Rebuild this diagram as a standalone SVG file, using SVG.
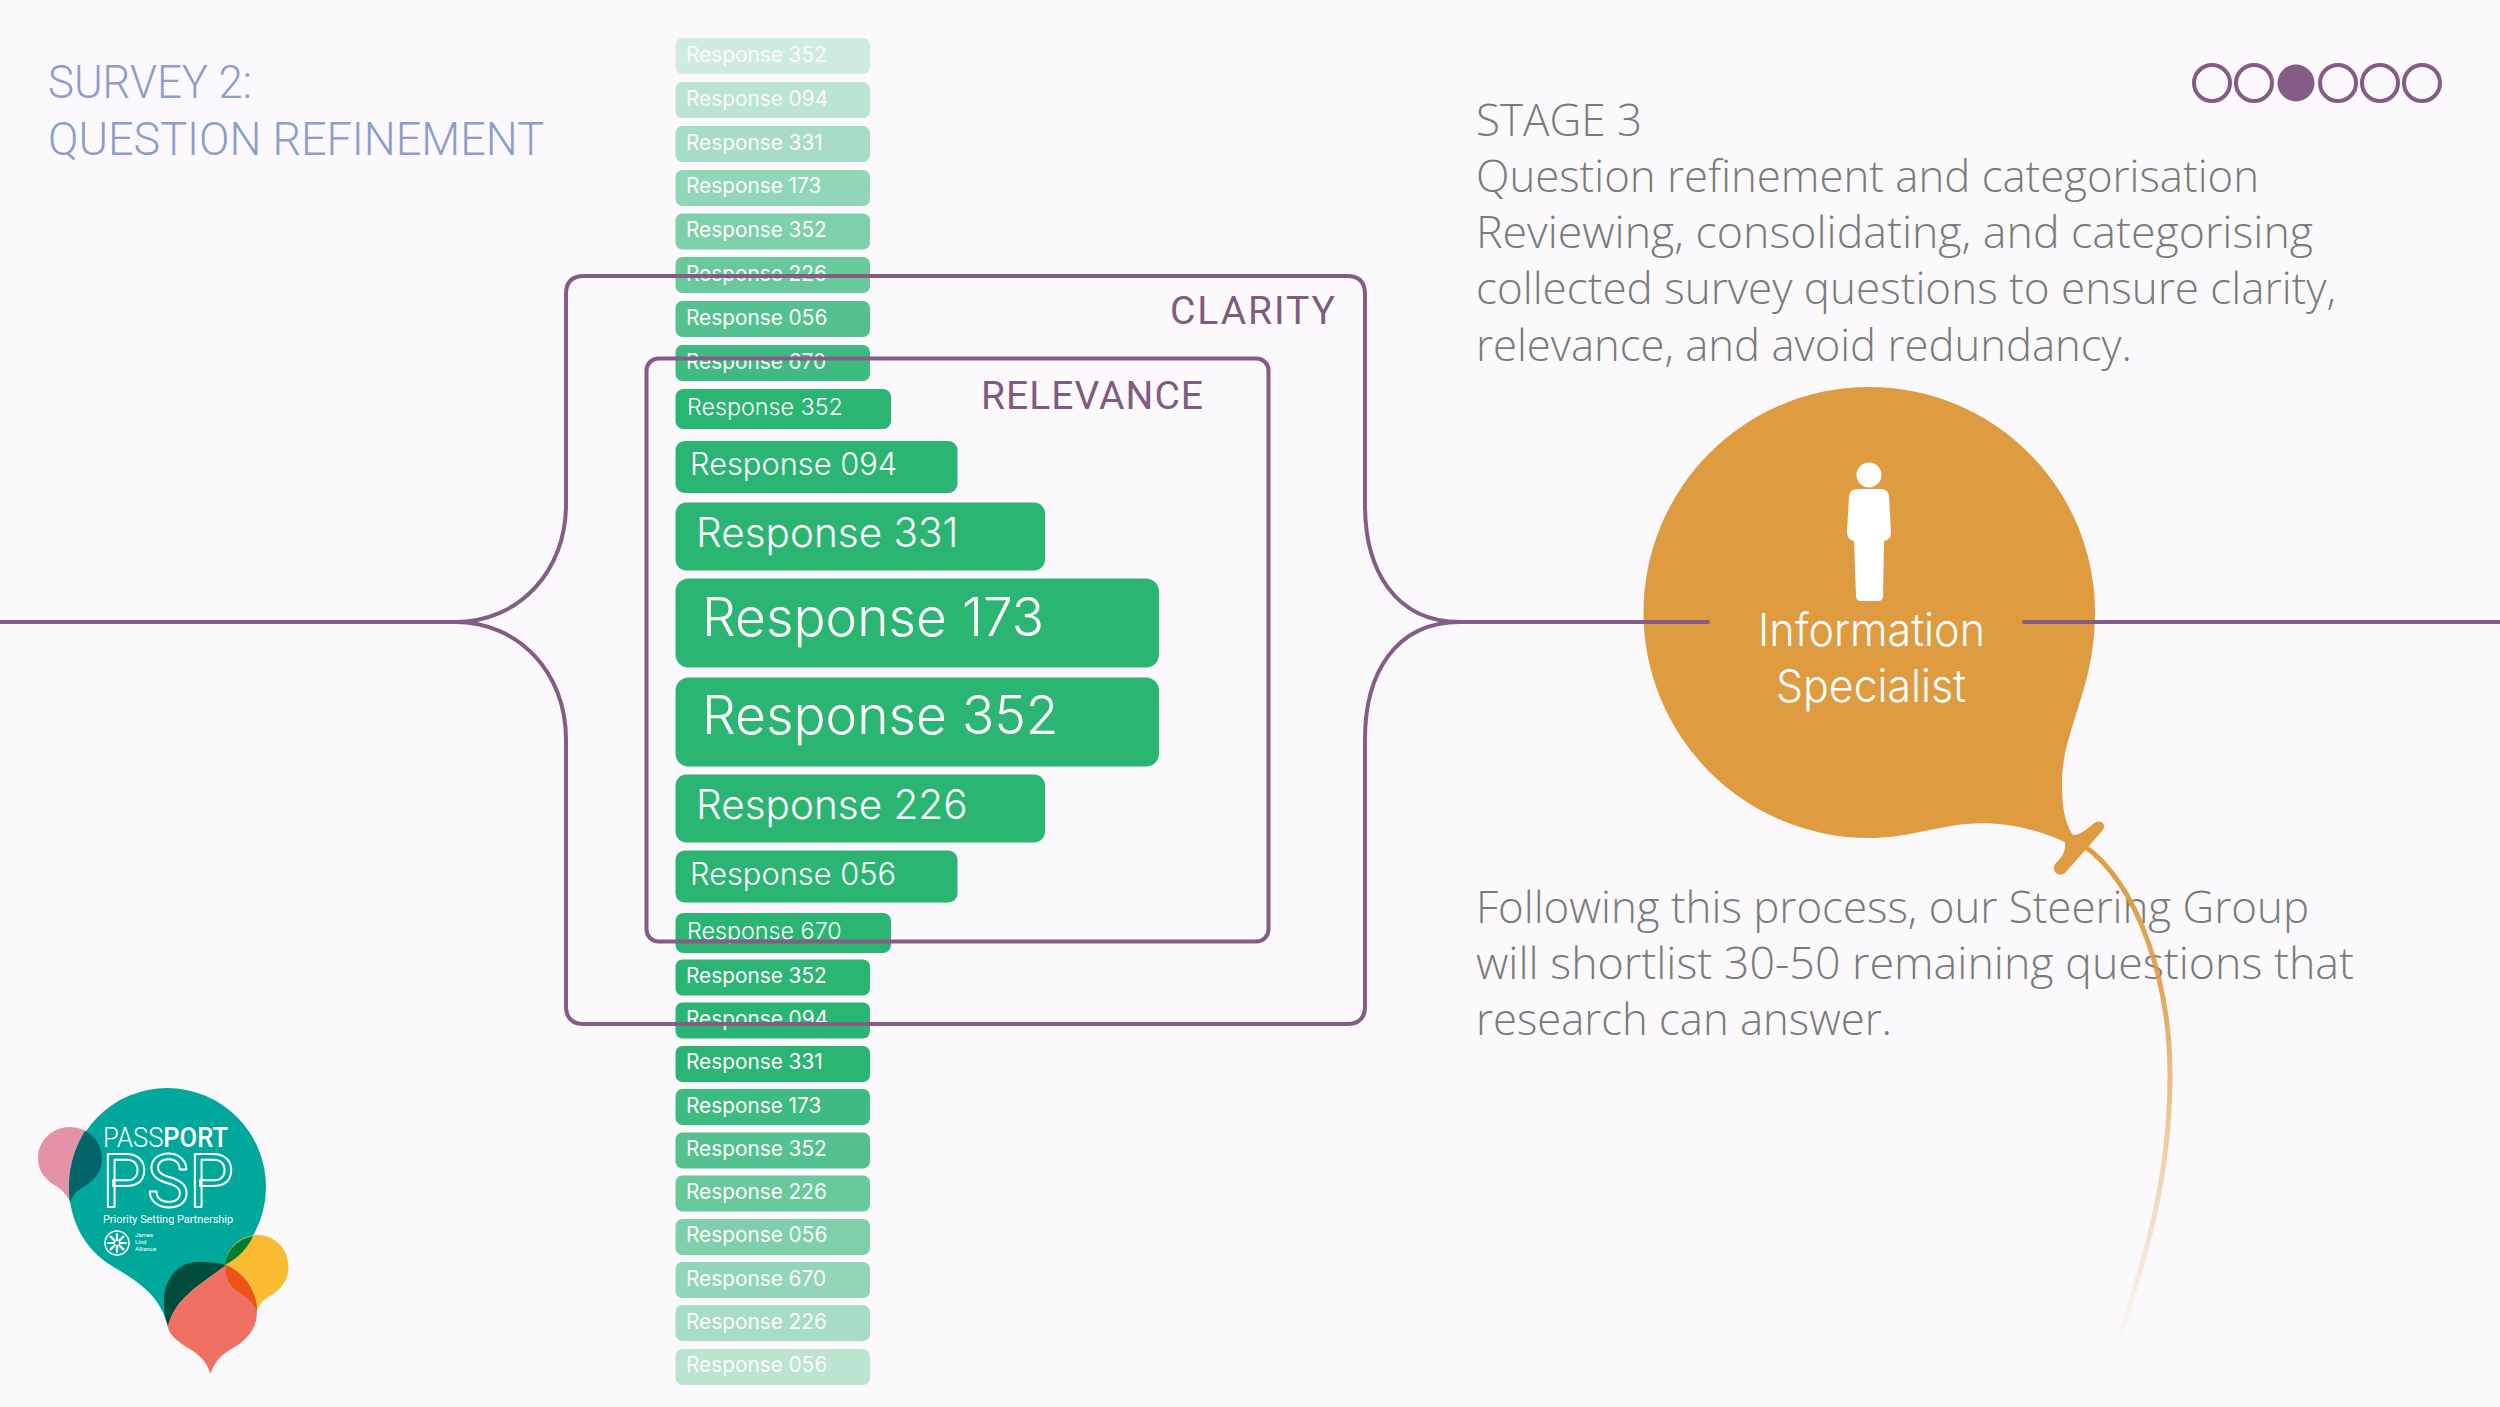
<svg xmlns="http://www.w3.org/2000/svg" width="2500" height="1407" viewBox="0 0 2500 1407">
<style>
.bar{fill:#2ab573}
.s{font-family:Inter,"Liberation Sans",sans-serif;font-weight:400;font-size:20.800px;fill:#fff}
.m1{font-size:23.300px;font-weight:350}
.m2{font-size:30.800px;font-weight:350}
.m3{font-size:40.500px;font-weight:350}
.m4{font-size:53.300px;font-weight:350}
.t{font-family:"Open Sans","Liberation Sans",sans-serif;font-weight:300;font-size:45px;fill:#7a7b7b}
.h{font-family:Roboto,"Liberation Sans",sans-serif;font-weight:300;font-size:46px;fill:#8e9cd0}
.l{font-family:Roboto,"Liberation Sans",sans-serif;font-weight:400;font-size:39px;fill:#7f5b81}
.line{fill:none;stroke:#845c86;stroke-width:4}
.lg{font-family:Roboto,"Liberation Sans",sans-serif;fill:#fff}
</style>
<defs>
<linearGradient id="fade" gradientUnits="userSpaceOnUse" x1="2100" y1="845" x2="2100" y2="1347">
<stop offset="0" stop-color="#df9b40"/><stop offset="0.3" stop-color="#df9b40" stop-opacity=".85"/><stop offset="0.6" stop-color="#df9b40" stop-opacity=".45"/><stop offset="1" stop-color="#df9b40" stop-opacity="0"/>
</linearGradient>
</defs>
<rect width="2500" height="1407" fill="#fbf9fb"/>
<g id="title"><text class="h" x="48" y="98" textLength="204" lengthAdjust="spacingAndGlyphs">SURVEY 2:</text><text class="h" x="48" y="155" textLength="496" lengthAdjust="spacingAndGlyphs">QUESTION REFINEMENT</text></g>
<g id="progress" fill="none" stroke="#845c86" stroke-width="4">
<circle cx="2212" cy="83" r="18"/><circle cx="2254" cy="83" r="18"/><circle cx="2296" cy="83" r="18.500" fill="#845c86" stroke="none"/><circle cx="2338" cy="83" r="18"/><circle cx="2380" cy="83" r="18"/><circle cx="2422" cy="83" r="18"/></g>
<g id="stage-text"><text class="t" x="1476" y="136" textLength="166" lengthAdjust="spacingAndGlyphs">STAGE 3</text><text class="t" x="1476" y="192" textLength="783" lengthAdjust="spacingAndGlyphs">Question refinement and categorisation</text><text class="t" x="1476" y="248" textLength="837" lengthAdjust="spacingAndGlyphs">Reviewing, consolidating, and categorising</text><text class="t" x="1476" y="304" textLength="860" lengthAdjust="spacingAndGlyphs">collected survey questions to ensure clarity,</text><text class="t" x="1476" y="361" textLength="656" lengthAdjust="spacingAndGlyphs">relevance, and avoid redundancy.</text></g>
<g id="follow-text"><text class="t" x="1476" y="923" textLength="833" lengthAdjust="spacingAndGlyphs">Following this process, our Steering Group</text><text class="t" x="1476" y="979" textLength="878" lengthAdjust="spacingAndGlyphs">will shortlist 30-50 remaining questions that</text><text class="t" x="1476" y="1035" textLength="416" lengthAdjust="spacingAndGlyphs">research can answer.</text></g>
<g id="bars">
<g opacity=".2"><rect class="bar" x="675.500" y="38" width="194.500" height="36" rx="7"/><text class="s" x="686" y="62">Response 352</text></g>
<g opacity=".3"><rect class="bar" x="675.500" y="82" width="194.500" height="36" rx="7"/><text class="s" x="686" y="106">Response 094</text></g>
<g opacity=".4"><rect class="bar" x="675.500" y="126" width="194.500" height="36" rx="7"/><text class="s" x="686" y="150">Response 331</text></g>
<g opacity=".5"><rect class="bar" x="675.500" y="170" width="194.500" height="36" rx="7"/><text class="s" x="686" y="193">Response 173</text></g>
<g opacity=".6"><rect class="bar" x="675.500" y="213.500" width="194.500" height="36" rx="7"/><text class="s" x="686" y="237">Response 352</text></g>
<g opacity=".7"><rect class="bar" x="675.500" y="257" width="194.500" height="36" rx="7"/><text class="s" x="686" y="281">Response 226</text></g>
<g opacity=".8"><rect class="bar" x="675.500" y="301" width="194.500" height="36" rx="7"/><text class="s" x="686" y="325">Response 056</text></g>
<g opacity=".9"><rect class="bar" x="675.500" y="345" width="194.500" height="36" rx="7"/><text class="s" x="686" y="369">Response 670</text></g>
<rect class="bar" x="675.500" y="389" width="215.500" height="40" rx="8"/><text class="s m1" x="687" y="415">Response 352</text>
<rect class="bar" x="675.500" y="441" width="282" height="52" rx="9"/><text class="s m2" x="690" y="475">Response 094</text>
<rect class="bar" x="675.500" y="502.500" width="369.500" height="68" rx="11"/><text class="s m3" x="696" y="547">Response 331</text>
<rect class="bar" x="675.500" y="578.500" width="483.500" height="89" rx="13"/><text class="s m4" x="702" y="636">Response 173</text>
<rect class="bar" x="675.500" y="677.500" width="483.500" height="89" rx="13"/><text class="s m4" x="702" y="734">Response 352</text>
<rect class="bar" x="675.500" y="774.500" width="369.500" height="68" rx="11"/><text class="s m3" x="696" y="819">Response 226</text>
<rect class="bar" x="675.500" y="850.500" width="282" height="52" rx="9"/><text class="s m2" x="690" y="885">Response 056</text>
<rect class="bar" x="675.500" y="913" width="215.500" height="40" rx="8"/><text class="s m1" x="687" y="939">Response 670</text>
<rect class="bar" x="675.500" y="959.500" width="194.500" height="36" rx="7"/><text class="s" x="686" y="983">Response 352</text>
<rect class="bar" x="675.500" y="1002.500" width="194.500" height="36" rx="7"/><text class="s" x="686" y="1026">Response 094</text>
<rect class="bar" x="675.500" y="1046" width="194.500" height="36" rx="7"/><text class="s" x="686" y="1069">Response 331</text>
<g opacity=".9"><rect class="bar" x="675.500" y="1089" width="194.500" height="36" rx="7"/><text class="s" x="686" y="1113">Response 173</text></g>
<g opacity=".8"><rect class="bar" x="675.500" y="1132.500" width="194.500" height="36" rx="7"/><text class="s" x="686" y="1156">Response 352</text></g>
<g opacity=".7"><rect class="bar" x="675.500" y="1175.500" width="194.500" height="36" rx="7"/><text class="s" x="686" y="1199">Response 226</text></g>
<g opacity=".6"><rect class="bar" x="675.500" y="1219" width="194.500" height="36" rx="7"/><text class="s" x="686" y="1242">Response 056</text></g>
<g opacity=".5"><rect class="bar" x="675.500" y="1262" width="194.500" height="36" rx="7"/><text class="s" x="686" y="1286">Response 670</text></g>
<g opacity=".4"><rect class="bar" x="675.500" y="1305" width="194.500" height="36" rx="7"/><text class="s" x="686" y="1329">Response 226</text></g>
<g opacity=".3"><rect class="bar" x="675.500" y="1349" width="194.500" height="36" rx="7"/><text class="s" x="686" y="1372">Response 056</text></g>
</g>
<g id="connectors">
<path class="line" d="M0 622H455C520 622 566 570 566 505V294Q566 276 584 276H1347Q1365 276 1365 294V505C1365 570 1395 622 1460 622H1708"/>
<path class="line" d="M455 622C520 622 566 674 566 739V1006Q566 1024 584 1024H1347Q1365 1024 1365 1006V739C1365 674 1395 622 1460 622"/>
<rect class="line" x="646.500" y="358.500" width="622" height="583" rx="12"/>
</g>
<g id="clarity-label"><text class="l" x="1170" y="324" textLength="165" lengthAdjust="spacing">CLARITY</text></g>
<g id="relevance-label"><text class="l" x="981" y="409" textLength="222" lengthAdjust="spacing">RELEVANCE</text></g>
<g id="information-specialist">
<path fill="#df9b40" d="M1869 387A225.500 225.500 0 0 1 2095 612C2095 690 2062 730 2062 783C2062 810 2066 825 2073 835C2080 835 2086 830 2093 824C2100 818 2108 824 2102 831L2065 873C2058 878 2050 870 2056 863C2062 857 2066 852 2065 842C2030 826 1995 821 1965 824C1930 828 1905 838 1869 838A225.500 225.500 0 0 1 1869 387Z"/>
<path fill="none" stroke="url(#fade)" stroke-width="5" d="M2083 845C2140 885 2170 985 2170 1075C2170 1180 2145 1260 2116 1347"/>
<circle cx="1869" cy="475" r="12.500" fill="#fff"/>
<path fill="#fff" d="M1857 489H1881Q1888 489 1889 496L1891 532Q1891 540 1884 541L1883 596Q1883 601 1878 601H1861Q1856 601 1856 596L1854 541Q1847 540 1847 532L1849 496Q1850 489 1857 489Z"/>
<text font-family="Inter,Roboto,sans-serif" font-weight="300" font-size="45" fill="#fff" x="1758" y="646" textLength="227" lengthAdjust="spacingAndGlyphs">Information</text>
<text font-family="Inter,Roboto,sans-serif" font-weight="300" font-size="45" fill="#fff" x="1776" y="702" textLength="190" lengthAdjust="spacingAndGlyphs">Specialist</text>
<path class="line" stroke-linecap="round" d="M1600 622H1708M2024 622H2500"/>
</g>
<g id="logo">
<path fill="#e492a6" d="M70 1127C88 1127 102 1141 102 1158C102 1175 90 1183 82 1188C76 1191 72 1197 70 1202C67 1195 62 1190 56 1186C46 1180 38 1172 38 1158C38 1141 52 1127 70 1127Z"/>
<path fill="#00a79b" d="M167 1088A99 99 0 0 1 266 1187A99 99 0 0 1 226 1266C205 1281 176 1295 168 1327C160 1295 140 1283 112 1266C85 1250 69 1220 69 1187A98 99 0 0 1 167 1088Z"/>
<path fill="#006569" d="M85 1131C95 1136 102 1146 102 1158C102 1175 90 1183 82 1188C76 1191 72 1197 70 1202C69 1197 69 1192 69 1187C69 1166 75 1147 85 1131Z"/>
<path fill="#f9bb30" d="M258 1235C275 1235 288.500 1249 288.500 1267C288.500 1283 277 1292 270 1296C264 1299 259 1304 257 1311C253 1303 246 1297 238 1292C230 1287 225 1278 225 1267C225 1249 240 1235 258 1235Z"/>
<path fill="#007c2f" d="M253 1236C237 1239 226 1251 225 1265C238 1258 248 1248 253 1236Z"/>
<path fill="#004c3c" d="M226 1265C215 1262 205 1262 197 1262C178 1262 164 1280 164 1300C164 1310 165 1318 168 1326C175 1298 200 1285 226 1265Z"/>
<path fill="#ef7163" d="M226 1265C242 1272 257 1290 257 1312C257 1330 245 1341 233 1348C222 1354 214 1362 210.500 1374C207 1362 199 1354 188 1348C176 1341 168 1333 168 1326C175 1298 200 1285 226 1265Z"/>
<path fill="#ea5516" d="M226 1265C224 1280 232 1288 240 1293C249 1298 254 1305 257 1311C257 1290 243 1272 226 1265Z"/>
<text class="lg" x="103" y="1147" font-size="28" font-weight="300" textLength="125" lengthAdjust="spacingAndGlyphs">PASS<tspan font-weight="500">PORT</tspan></text>
<text x="102" y="1207" font-family="Roboto,sans-serif" font-size="74" fill="none" stroke="#fff" stroke-width="2" stroke-linejoin="round" textLength="132" lengthAdjust="spacingAndGlyphs">PSP</text>
<text class="lg" x="103" y="1223" font-size="10.500" textLength="130" lengthAdjust="spacingAndGlyphs">Priority Setting Partnership</text>
<circle cx="117" cy="1243" r="12" fill="none" stroke="#fff" stroke-width="1.500"/>
<path fill="none" stroke="#fff" stroke-width="2.200" stroke-linecap="round" d="M117 1240V1234M117 1246V1252M114 1243H108M120 1243H126M114.900 1240.900L110.600 1236.600M119.100 1245.100L123.400 1249.400M119.100 1240.900L123.400 1236.600M114.900 1245.100L110.600 1249.400"/>
<text class="lg" x="135" y="1237" font-size="6">James</text><text class="lg" x="135" y="1244" font-size="6">Lind</text><text class="lg" x="135" y="1251" font-size="6">Alliance</text>
</g>
</svg>
